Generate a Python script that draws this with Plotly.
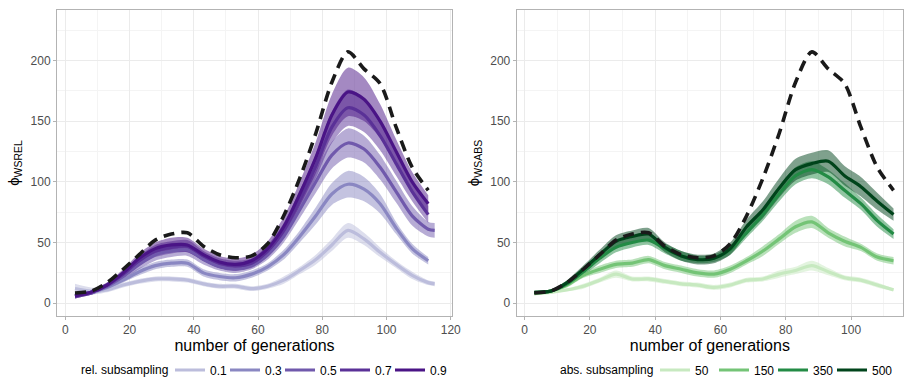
import plotly.graph_objects as go

# ---------------- data ----------------
X = [3, 8, 13, 18, 23, 28, 33, 38, 43, 48, 53, 58, 63, 68, 73, 78, 83, 88, 93, 98, 103, 108, 113]
X_EXT = X + [115]

REFERENCE = [8.5, 10, 17, 28, 40, 52, 57, 58, 47, 40, 37.5, 39, 49, 72, 103, 140, 182, 207, 193, 181, 145, 112, 93]

REL_LEVELS = ["0.1", "0.3", "0.5", "0.7", "0.9"]
REL_01 = [12, 10, 11, 15, 18, 20, 20, 19, 16, 14, 14, 12, 14, 19, 27, 36, 48, 60, 53, 42, 32, 23, 17, 16]
REL_03 = [7, 9, 13, 19, 26, 31, 33, 33, 25, 22, 21, 24, 30, 40, 55, 72, 90, 98, 94, 82, 62, 45, 35]
REL_05 = [6, 9, 14, 22, 32, 40, 43, 44, 36, 30, 28, 31, 40, 55, 77, 100, 122, 132, 127, 112, 92, 72, 61, 60]
REL_07 = [6, 9, 15, 24, 35, 43, 46, 47, 39, 33, 31, 33, 43, 60, 85, 113, 145, 161, 155, 138, 115, 92, 73]
REL_09 = [6, 9, 15, 25, 37, 45, 48, 48, 40, 34, 32, 35, 45, 63, 90, 120, 155, 174, 168, 150, 125, 100, 82]

REL_01_SPREAD = [4, 3, 2, 2, 2, 2, 2, 2, 2, 2, 2, 2, 2, 3, 3, 4, 5, 6, 5, 4, 3, 3, 2, 2]
REL_03_SPREAD = [2, 2, 2, 2, 3, 3, 3, 3, 3, 3, 3, 3, 3, 4, 5, 7, 9, 11, 10, 8, 5, 4, 3]
REL_05_SPREAD = [2, 2, 2, 3, 4, 5, 5, 5, 4, 3, 3, 3, 4, 5, 7, 9, 11, 12, 11, 10, 9, 8, 6, 6]
REL_07_SPREAD = [2, 2, 2, 3, 4, 5, 5, 5, 4, 4, 4, 4, 5, 6, 8, 10, 13, 15, 14, 12, 10, 8, 7]
REL_09_SPREAD = [2, 2, 2, 3, 4, 5, 6, 6, 5, 5, 5, 5, 6, 8, 10, 13, 17, 20, 18, 14, 10, 8, 7]

ABS_LEVELS = ["50", "150", "350", "500"]
ABS_50 = [8, 9, 11, 14, 19, 24, 20, 20, 18, 16, 15, 13, 15, 19, 20, 24, 27, 31, 26, 21, 19, 15, 11]
ABS_150 = [8, 10, 15, 23, 28, 32, 33, 36, 31, 28, 25, 24, 28, 35, 43, 53, 63, 67, 58, 51, 46, 38, 35]
ABS_350 = [9, 10, 16, 26, 37, 46, 50, 52, 45, 39, 36, 37, 44, 58, 73, 90, 105, 110, 104, 93, 82, 68, 57]
ABS_500 = [9, 10, 17, 28, 40, 51, 55, 57, 46, 39, 36, 37, 45, 63, 77, 95, 110, 115, 117, 105, 96, 84, 73]

ABS_50_SPREAD = [1, 1, 1, 2, 2, 3, 2, 2, 2, 2, 2, 2, 2, 2, 2, 3, 3, 4, 3, 2, 2, 2, 1]
ABS_150_SPREAD = [1, 1, 2, 2, 3, 3, 3, 3, 3, 3, 3, 3, 3, 3, 4, 4, 5, 5, 4, 4, 3, 3, 3]
ABS_350_SPREAD = [1, 1, 2, 3, 4, 4, 4, 4, 4, 4, 3, 3, 4, 4, 5, 6, 7, 7, 6, 6, 5, 5, 4]
ABS_500_SPREAD = [1, 1, 2, 3, 4, 5, 5, 5, 4, 4, 4, 4, 5, 6, 7, 8, 9, 9, 9, 8, 8, 7, 5]

REL_COLORS = ["#bcbddc", "#8a87c2", "#7059ac", "#5a3197", "#4a1486"]
ABS_COLORS = ["#c7e9c0", "#74c476", "#238b45", "#00441b"]

REL_TITLE = "rel. subsampling"
ABS_TITLE = "abs. subsampling"

rel_series = [(X_EXT, REL_01, REL_01_SPREAD), (X, REL_03, REL_03_SPREAD), (X_EXT, REL_05, REL_05_SPREAD),
              (X, REL_07, REL_07_SPREAD), (X, REL_09, REL_09_SPREAD)]
abs_series = [(X, ABS_50, ABS_50_SPREAD), (X, ABS_150, ABS_150_SPREAD), (X, ABS_350, ABS_350_SPREAD),
              (X, ABS_500, ABS_500_SPREAD)]


def rgba(hexcol, a):
    h = hexcol.lstrip("#")
    return "rgba(%d,%d,%d,%.2f)" % (int(h[0:2], 16), int(h[2:4], 16), int(h[4:6], 16), a)


fig = go.Figure()

FONT = "Liberation Sans, Arial, sans-serif"


def add_panel(series, levels, colors, xa, ya, legend):
    # ribbons first
    for (xs, ys, sp), col in zip(series, colors):
        lo = [v - s for v, s in zip(ys, sp)]
        hi = [v + s for v, s in zip(ys, sp)]
        fig.add_trace(go.Scatter(x=xs, y=lo, mode="lines", line=dict(width=0, shape="spline", smoothing=0.8),
                                 xaxis=xa, yaxis=ya, showlegend=False, hoverinfo="skip"))
        fig.add_trace(go.Scatter(x=xs, y=hi, mode="lines", line=dict(width=0, shape="spline", smoothing=0.8),
                                 fill="tonexty", fillcolor=rgba(col, 0.5),
                                 xaxis=xa, yaxis=ya, showlegend=False, hoverinfo="skip"))
    # mean lines
    for (xs, ys, sp), col, lev in zip(series, colors, levels):
        fig.add_trace(go.Scatter(x=xs, y=ys, mode="lines", name=lev,
                                 line=dict(color=col, width=3.2, shape="spline", smoothing=0.8),
                                 xaxis=xa, yaxis=ya, legend=legend))
    # invisible spacer entry so the last legend label is not clipped
    fig.add_trace(go.Scatter(x=[None], y=[None], mode="lines", name=" ",
                             line=dict(color="rgba(0,0,0,0)", width=0),
                             xaxis=xa, yaxis=ya, legend=legend, hoverinfo="skip"))
    # reference dashed line
    fig.add_trace(go.Scatter(x=X, y=REFERENCE, mode="lines", showlegend=False,
                             line=dict(color="#1a1a1a", width=3.6, dash="11px,7px", shape="spline", smoothing=0.8),
                             xaxis=xa, yaxis=ya))


add_panel(rel_series, REL_LEVELS, REL_COLORS, "x", "y", "legend")
add_panel(abs_series, ABS_LEVELS, ABS_COLORS, "x2", "y2", "legend2")

W, H = 904, 384
ydom = [(H - 316) / H, (H - 10) / H]
LEG_Y = (H - 370) / H

axis_common = dict(
    showline=True, mirror=True, linecolor="#B3B3B3", linewidth=1,
    ticks="outside", ticklen=3, tickcolor="#B3B3B3", tickwidth=1,
    showgrid=True, gridcolor="#EBEBEB", gridwidth=1,
    zeroline=False,
    tickfont=dict(family=FONT, size=12, color="#4D4D4D"),
)
minor_x = dict(tickvals=[10, 30, 50, 70, 90, 110], showgrid=True, gridcolor="#F4F4F4", gridwidth=0.6, ticks="")
minor_y = dict(tickvals=[25, 75, 125, 175, 225], showgrid=True, gridcolor="#F4F4F4", gridwidth=0.6, ticks="")

legend_common = dict(orientation="h", yanchor="middle", y=LEG_Y, xanchor="left",
                     font=dict(family=FONT, size=12, color="black"), itemwidth=30, traceorder="normal",
                     entrywidthmode="pixels", bgcolor="rgba(0,0,0,0)")

fig.update_layout(
    width=W, height=H,
    margin=dict(l=0, r=0, t=0, b=0, autoexpand=False),
    paper_bgcolor="white", plot_bgcolor="white",
    font=dict(family=FONT),
    xaxis=dict(domain=[57 / W, 452 / W], range=[-2.6, 120.4], tickvals=[0, 20, 40, 60, 80, 100, 120],
               minor=minor_x,
               title=dict(text="number of generations", font=dict(family=FONT, size=16, color="black"), standoff=2),
               anchor="y", **axis_common),
    yaxis=dict(domain=ydom, range=[-10.5, 241.5], tickvals=[0, 50, 100, 150, 200],
               minor=minor_y,
               title=dict(text="ϕ<sub>WSREL</sub>", font=dict(family=FONT, size=15, color="black"), standoff=7),
               anchor="x", **axis_common),
    xaxis2=dict(domain=[516.7 / W, 903 / W], range=[-2.4, 115.9], tickvals=[0, 20, 40, 60, 80, 100],
                minor=minor_x,
                title=dict(text="number of generations", font=dict(family=FONT, size=16, color="black"), standoff=2),
                anchor="y2", **axis_common),
    yaxis2=dict(domain=ydom, range=[-10.5, 241.5], tickvals=[0, 50, 100, 150, 200],
                minor=minor_y,
                title=dict(text="ϕ<sub>WSABS</sub>", font=dict(family=FONT, size=15, color="black"), standoff=7),
                anchor="x2", **axis_common),
    legend=dict(x=170 / W, entrywidth=10, **legend_common),
    legend2=dict(x=655 / W, entrywidth=14, **legend_common),
    annotations=[
        dict(text=REL_TITLE, xref="paper", yref="paper", x=170 / W, y=LEG_Y, xanchor="right", yanchor="middle",
             showarrow=False, font=dict(family=FONT, size=12, color="black")),
        dict(text=ABS_TITLE, xref="paper", yref="paper", x=655 / W, y=LEG_Y, xanchor="right", yanchor="middle",
             showarrow=False, font=dict(family=FONT, size=12, color="black")),
    ],
)

fig.write_html("out.html")
